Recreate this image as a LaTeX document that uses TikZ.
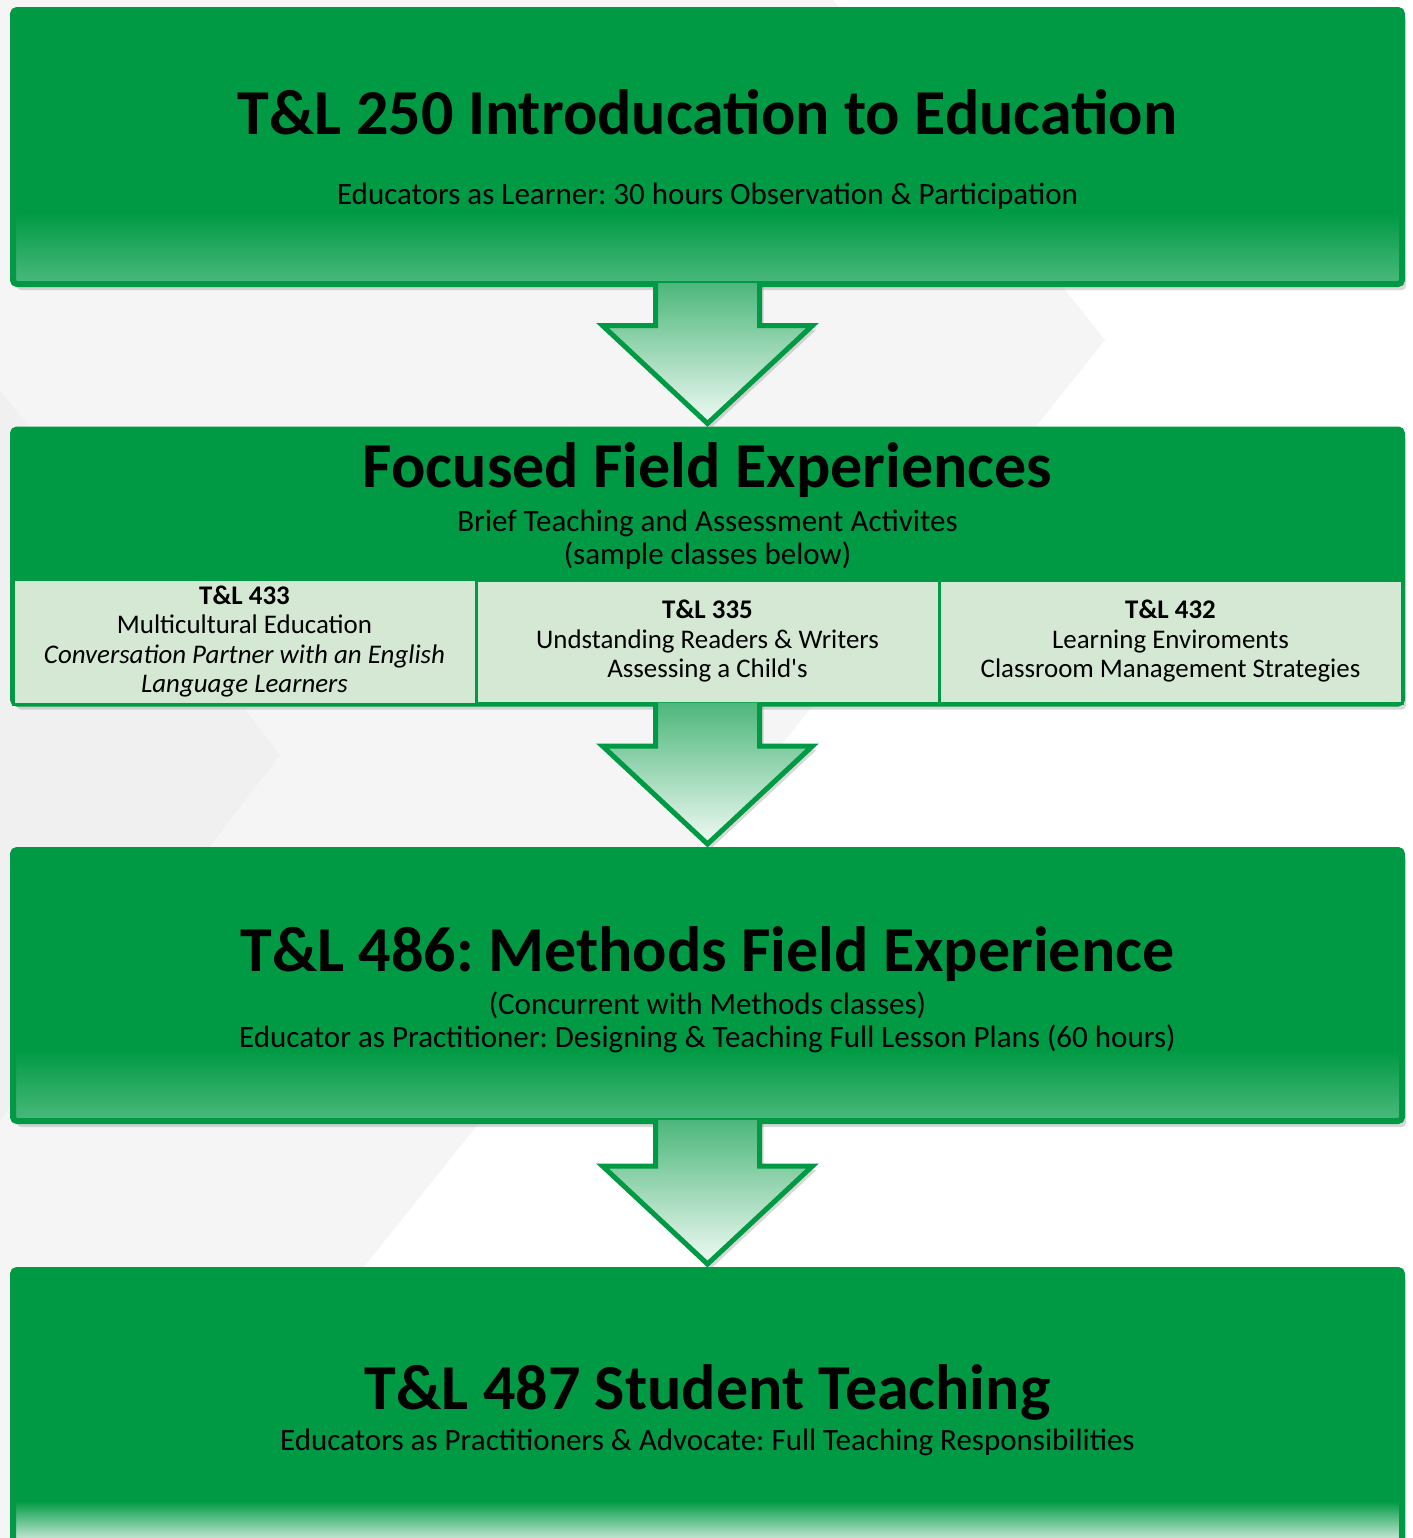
\documentclass[tikz,border=0pt]{standalone}
\usepackage{fontspec}
\setmainfont{Carlito}
\frenchspacing
\usepackage{tikz}
\usetikzlibrary{positioning,calc,shadows}
\definecolor{tlgreen}{HTML}{009A44}
\definecolor{tlfade}{HTML}{4CB97D}
\definecolor{tlpale}{HTML}{E3F4EA}
\definecolor{cellgreen}{HTML}{D5E8D4}
\definecolor{arrowtop}{HTML}{4DB77B}
\definecolor{arrowtip}{HTML}{F0FAF4}
\definecolor{bggray}{HTML}{F5F5F5}
\definecolor{bgdark}{HTML}{F0F0F0}
%Define shadings for the bottom of the boxes
\pgfdeclareverticalshading{boxfade}{100bp}{color(0bp)=(tlfade); color(25bp)=(tlfade); color(38bp)=(tlgreen); color(100bp)=(tlgreen)}
\pgfdeclareverticalshading{lastfade}{100bp}{color(0bp)=(tlpale); color(25bp)=(tlpale); color(33bp)=(tlgreen); color(100bp)=(tlgreen)}
\tikzset{
    %Define style for the big boxes
    stage/.style={
           rectangle,
           rounded corners=2pt,
           draw=tlgreen, line width=3pt,
           minimum width=694.5pt,
           minimum height=137pt,
           drop shadow={shadow xshift=2pt, shadow yshift=-3pt, opacity=0.3}},
    fadestage/.style={stage, shade, shading=boxfade},
    % Define style for the sample classes
    course/.style={
           rectangle,
           draw=tlgreen, line width=1.5pt,
           fill=cellgreen,
           outer sep=0pt,
           minimum width=231.5pt,
           minimum height=61.5pt,
           align=center,
           font=\fontsize{13.45}{14.75}\selectfont},
    heading/.style={font=\bfseries\fontsize{32}{38}\selectfont, anchor=base},
    subline/.style={font=\fontsize{15.5}{16.5}\selectfont, align=center},
    % Define arrow style
    blockarrow/.style={
           draw=tlgreen, line width=2.5pt,
           top color=arrowtop, bottom color=arrowtip,
           drop shadow={shadow xshift=2pt, shadow yshift=-2pt, opacity=0.3}}
}

\begin{document}
\begin{tikzpicture}[x=0.5pt,y=-0.5pt]
\useasboundingbox (0,0) rectangle (1413,1538);
% background
\fill[white] (0,0) rectangle (1413,1538);
\fill[bggray] (0,0) -- (833,0) -- (1105,340) -- (147,1538) -- (0,1538) -- cycle;
\fill[bgdark] (0,390) -- (280,755) -- (0,1120) -- cycle;

 %boxes
\node[fadestage] (box1) at (707.5,147) {};
\node[stage, fill=tlgreen] (box2) at (707.5,566.5) {};
\node[fadestage, minimum height=135.5pt] (box3) at (707.5,985.5) {};
\node[stage, shade, shading=lastfade, minimum height=137.5pt] (box4) at (707.5,1407.5) {};

 %sample classes
\node[course] (c433) at (244.5,641.5) {\textbf{T\&L 433}\\Multicultural Education\\\textit{Conversation Partner with an English}\\\textit{Language Learners}};
\node[course, right=0pt of c433] (c335) {\textbf{T\&L 335}\\Undstanding Readers \& Writers\\Assessing a Child\textquotesingle s};
\node[course, right=0pt of c335] (c432) {\textbf{T\&L 432}\\Learning Enviroments\\Classroom Management Strategies};

 %texts
\node[heading] (t250) at (707.5,134) {T\&L 250 Introducation to Education};
\node[subline, anchor=base] (s250) at (707.5,204) {Educators as Learner: 30 hours Observation \& Participation};
\node[heading] (tffe) at (707.5,487) {Focused Field Experiences};
\node[subline] (sffe) at (707.5,540) {Brief Teaching and Assessment Activites\\(sample classes below)};
\node[heading] (t486) at (707.5,971) {T\&L 486: Methods Field Experience};
\node[subline] (s486) at (707.5,1022) {(Concurrent with Methods classes)\\Educator as Practitioner: Designing \& Teaching Full Lesson Plans (60 hours)};
\node[heading] (t487) at (707.5,1409) {T\&L 487 Student Teaching};
\node[subline, anchor=base] (s487) at (707.5,1450) {Educators as Practitioners \& Advocate: Full Teaching Responsibilities};

 %arrows
\foreach \from/\to in {box1/box2,box2/box3,box3/box4}
    \draw[blockarrow] ($(\from.south)+(-52,-4)$) -- ($(\to.north)+(-52,-101)$)
        -- ($(\to.north)+(-105,-101)$) -- ($(\to.north)+(0,-3)$)
        -- ($(\to.north)+(105,-101)$) -- ($(\to.north)+(52,-101)$)
        -- ($(\from.south)+(52,-4)$);

\end{tikzpicture}
\end{document}
